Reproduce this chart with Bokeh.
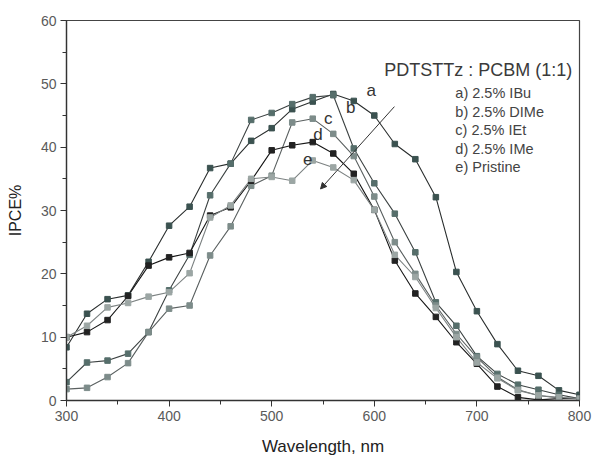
from bokeh.plotting import figure
from bokeh.models import Range1d, FixedTicker, Label, Arrow, NormalHead
from bokeh.embed import file_html
from bokeh.resources import INLINE

# ---- data ----
wavelength = [300, 320, 340, 360, 380, 400, 420, 440, 460, 480, 500, 520, 540,
              560, 580, 600, 620, 640, 660, 680, 700, 720, 740, 760, 780, 800]
ibu = [8.4, 13.7, 16.0, 16.6, 21.9, 27.6, 30.6, 36.7, 37.4, 41.0, 43.0, 46.0, 47.2,
       48.4, 47.3, 45.0, 40.5, 38.1, 32.1, 20.3, 14.1, 8.9, 4.7, 3.9, 1.6, 0.9]
dime = [2.9, 6.0, 6.3, 7.4, 10.8, 17.4, 23.0, 32.4, 37.4, 44.3, 45.4, 46.8, 47.9,
        48.2, 39.8, 34.3, 29.5, 23.4, 15.5, 11.8, 7.0, 4.2, 2.5, 1.7, 0.9, 0.3]
iet = [1.8, 2.0, 3.7, 5.9, 10.8, 14.5, 15.0, 22.9, 27.5, 33.9, 35.5, 43.9, 44.5,
       42.1, 38.6, 32.2, 25.0, 20.0, 15.0, 10.5, 6.8, 3.7, 1.7, 0.8, 0.4, 0.3]
ime = [10.0, 10.8, 12.7, 16.5, 21.3, 22.6, 23.3, 29.2, 30.5, 34.7, 39.5, 40.3, 40.8,
       39.0, 35.8, 30.1, 22.1, 16.9, 13.2, 9.2, 5.8, 2.2, 0.5, 0.1, 0.3, 0.3]
pristine = [10.0, 11.8, 14.7, 15.4, 16.4, 17.1, 20.1, 28.9, 30.8, 35.0, 35.3, 34.7, 37.9,
            36.8, 34.8, 30.1, 23.0, 19.5, 14.6, 10.0, 6.0, 3.5, 1.6, 0.8, 0.5, 0.3]

series_letters = ["a", "b", "c", "d", "e"]
legend_texts = ["a) 2.5% IBu", "b) 2.5% DIMe", "c) 2.5% IEt", "d) 2.5% IMe", "e) Pristine"]
title_text = "PDTSTTz : PCBM (1:1)"
x_ticks = [300, 400, 500, 600, 700, 800]
y_ticks = [0, 10, 20, 30, 40, 50, 60]

FONT = "Liberation Sans"

p = figure(width=592, height=459, output_backend="svg", toolbar_location=None,
           x_range=Range1d(300, 800), y_range=Range1d(0, 60),
           min_border_left=66, min_border_right=13, min_border_top=20, min_border_bottom=59)
p.background_fill_color = "white"
p.border_fill_color = "white"
p.outline_line_color = "#444444"
p.outline_line_width = 1.2
p.xgrid.visible = False
p.ygrid.visible = False

p.xaxis.ticker = FixedTicker(ticks=x_ticks, minor_ticks=[350, 450, 550, 650, 750])
p.yaxis.ticker = FixedTicker(ticks=y_ticks, minor_ticks=[5, 15, 25, 35, 45, 55])
for ax in (p.xaxis[0], p.yaxis[0]):
    ax.axis_line_color = "#333333"
    ax.axis_line_width = 1.3
    ax.major_tick_line_color = "#333333"
    ax.minor_tick_line_color = "#333333"
    ax.major_tick_out = 6
    ax.major_tick_in = 0
    ax.minor_tick_out = 4
    ax.minor_tick_in = 0
    ax.major_label_text_font = FONT
    ax.major_label_text_font_size = "14px"
    ax.major_label_text_color = "#5a5a5a"
    ax.axis_label_text_font = FONT
    ax.axis_label_text_font_style = "normal"
    ax.axis_label_text_color = "#222222"
p.xaxis.axis_label = "Wavelength, nm"
p.xaxis.axis_label_text_font_size = "17px"
p.xaxis.axis_label_standoff = 13
p.xaxis.major_label_standoff = 4
p.yaxis.axis_label = "IPCE%"
p.yaxis.axis_label_text_font_size = "16px"
p.yaxis.axis_label_standoff = 14
p.yaxis.major_label_standoff = 4

series = [ibu, dime, iet, ime, pristine]
line_colors = ["#2a2e2e", "#3c4242", "#5a6060", "#161616", "#7c8282"]
marker_colors = ["#3b5250", "#566e6b", "#7d8c8a", "#222222", "#9ca6a4"]
for ys, lc in zip(series, line_colors):
    p.line(wavelength, ys, line_color=lc, line_width=1.1)
for ys, mc in zip(series, marker_colors):
    p.scatter(wavelength, ys, marker="square", size=5.5, fill_color=mc, line_color=mc)

# curve letters
letter_pos = [(597, 48.9), (577, 46.3), (555, 44.5), (545, 42.0), (535, 38.2)]
for letter, (lx, ly) in zip(series_letters, letter_pos):
    p.add_layout(Label(x=lx, y=ly, text=letter, text_font=FONT, text_font_size="17px",
                       text_color="#333333", text_align="center", text_baseline="middle"))

# arrow
p.add_layout(Arrow(end=NormalHead(size=6, fill_color="#333333", line_color="#333333"),
                   x_start=619.6, y_start=46.4, x_end=547.6, y_end=33.4,
                   line_color="#333333", line_width=1))

# title text
p.add_layout(Label(x=793, y=52.2, text=title_text, text_font=FONT, text_font_size="18px",
                   text_color="#3a3a3a", text_align="right", text_baseline="middle"))

# legend texts
for i, t in enumerate(legend_texts):
    p.add_layout(Label(x=679, y=(400 - (93 + 18.5 * i)) / 6.333, text=t, text_font=FONT,
                       text_font_size="14.5px", text_color="#444444",
                       text_align="left", text_baseline="middle"))

open("out.html", "w").write(file_html(p, INLINE))
